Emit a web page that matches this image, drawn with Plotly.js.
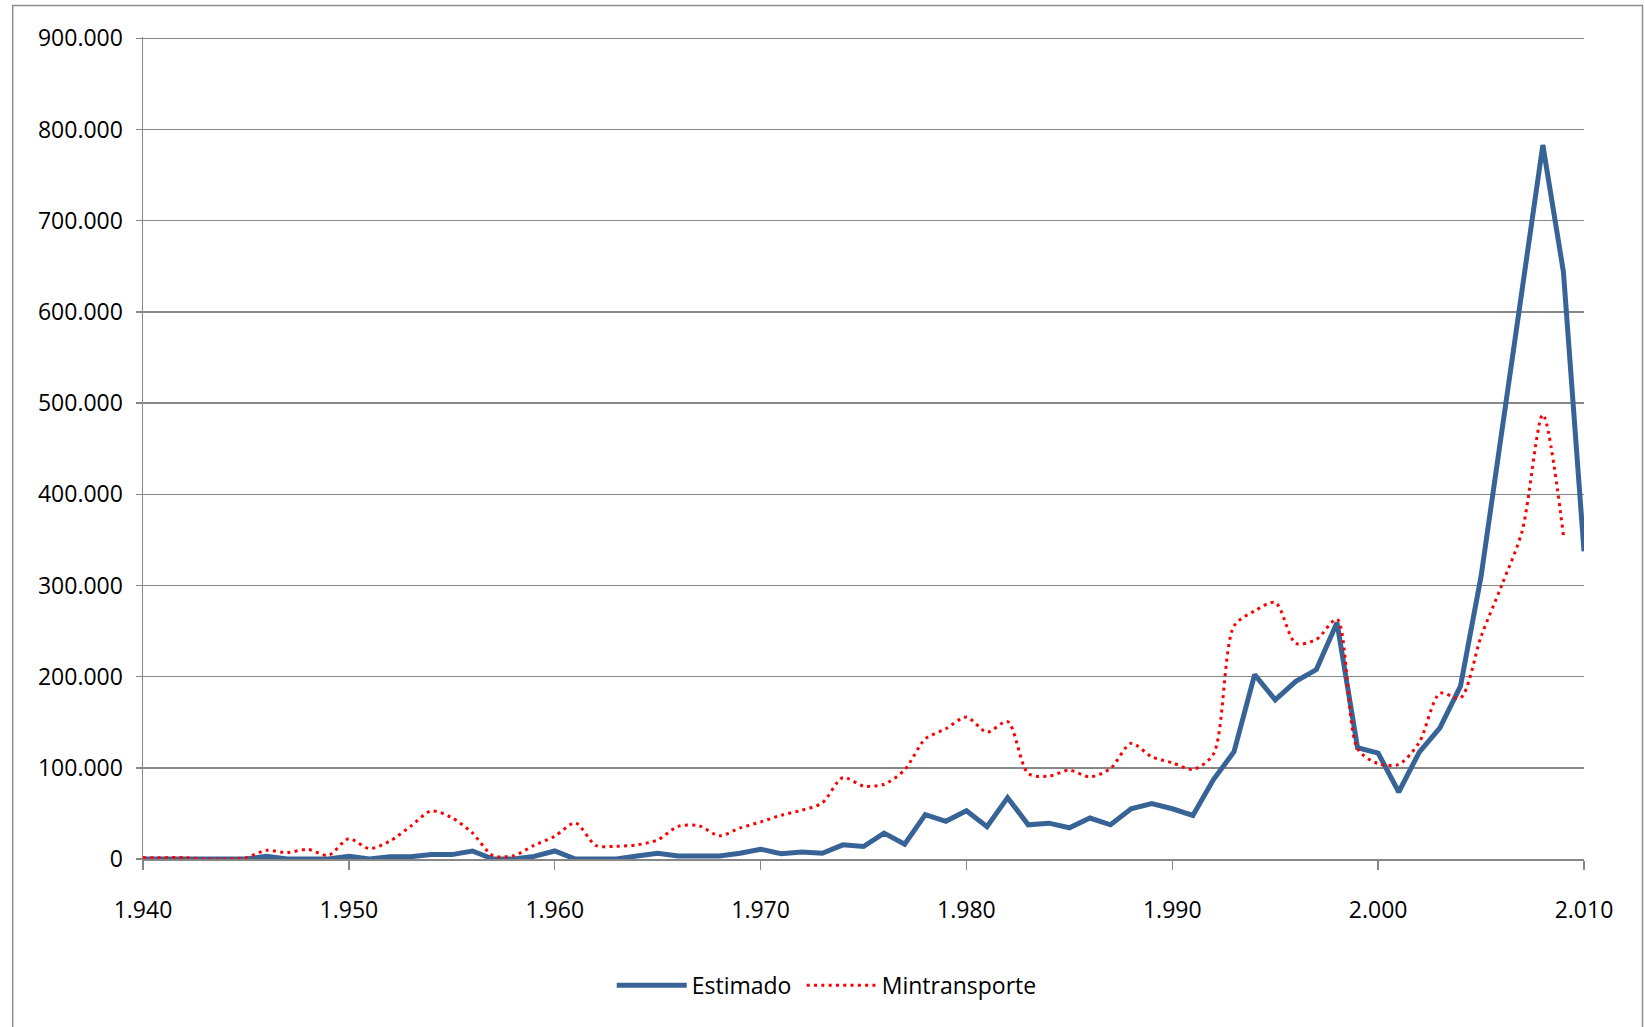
<!DOCTYPE html>
<html>
<head>
<meta charset="utf-8">
<script src="https://cdn.plot.ly/plotly-3.0.1.min.js"></script>
<style>html,body{margin:0;padding:0;background:#fff;}#chart{width:1645px;height:1027px;}</style>
</head>
<body>
<div id="chart"></div>
<script>
const years = [];
for (let y = 1940; y <= 2010; y++) years.push(y);

const estimado = [
  0, 0, 0, 0, 0, 0, 3000, 0, 0, 0,
  2900, 0, 2500, 2500, 4800, 4800, 8800, 0, 0, 2900,
  8800, 0, 0, 0, 3300, 6300, 3300, 3300, 3300, 6300,
  10700, 5900, 7700, 6300, 15500, 13700, 28400, 16200, 48700, 41300,
  53000, 35500, 67300, 37500, 39300, 34200, 44900, 37500, 55100, 60700,
  55100, 47800, 87100, 117600, 202200, 174600, 194900, 207700, 259200, 122000,
  116100, 73500, 117200, 143800, 189500, 310000, 466000, 620000, 783000, 644000,
  337400
];

const mintransporte = [
  1500, 1500, 1500, 0, 0, 1500, 9500, 7000, 10600, 4000,
  22300, 11400, 19800, 35900, 52700, 45400, 28600, 3700, 3700, 15000,
  24900, 39600, 14800, 14000, 15500, 21000, 35800, 36500, 25500, 34000,
  40600, 48000, 53500, 61600, 89300, 80000, 82000, 97800, 131700, 142800,
  155600, 139000, 150700, 93700, 90800, 97400, 90100, 99300, 126800, 112100,
  105500, 98200, 115100, 255500, 272000, 281300, 236400, 240800, 262900, 120900,
  104500, 103700, 128100, 181700, 176500, 244000, 300000, 360000, 487200, 355000,
  null
];

const seriesNames = ["Estimado", "Mintransporte"];
const xTickStart = 1940, xTickEnd = 2010, xTickStep = 10;
const yTickMax = 900000, yTickStep = 100000;

const FONT = "'Open Sans', 'Noto Sans', sans-serif";
const FS = 23;
const GRID = "#878787";

const traces = [
  {
    x: years, y: estimado, name: seriesNames[0], type: "scatter", mode: "lines",
    line: {color: "#386396", width: 5},
    legend: "legend",
    hoverinfo: "x+y"
  },
  {
    x: years, y: mintransporte, name: seriesNames[1], type: "scatter", mode: "lines",
    line: {color: "#ff0000", width: 3, dash: "3px,4.3px", shape: "spline", smoothing: 0.8},
    connectgaps: false,
    legend: "legend2",
    hoverinfo: "x+y"
  }
];

const yPad = 1.0016;
const top900 = 37.9;
const plotTop = top900 - (858.7 - top900) * (yPad - 1);
const plotW = 1584.2 - 143.3, plotH = 858.7 - plotTop;
const legendBase = {
  orientation: "h", xanchor: "left",
  y: (858.7 - 985) / plotH, yanchor: "middle",
  font: {family: FONT, size: FS, color: "#000"},
  itemwidth: 70, bgcolor: "rgba(0,0,0,0)"
};
const layout = {
  width: 1645, height: 1027,
  margin: {l: 143.3, r: 1645 - 1584.2, t: plotTop, b: 1027 - 858.7, pad: 0},
  paper_bgcolor: "#ffffff", plot_bgcolor: "#ffffff",
  separators: ",.",
  font: {family: FONT, size: FS, color: "#000000"},
  showlegend: true,
  legend: Object.assign({}, legendBase, {x: (612 - 143.3) / plotW}),
  legend2: Object.assign({}, legendBase, {x: (802 - 143.3) / plotW}),
  xaxis: {
    range: [xTickStart, xTickEnd], tickmode: "linear", tick0: xTickStart, dtick: xTickStep,
    tickformat: ",d", showgrid: false, zeroline: false,
    showline: true, linecolor: GRID, linewidth: 1.5,
    ticks: "outside", ticklen: 9, tickwidth: 1.5, tickcolor: GRID,
    tickfont: {family: FONT, size: FS, color: "#000"},
    ticklabelstandoff: 21
  },
  yaxis: {
    range: [0, yTickMax * yPad], tickmode: "linear", tick0: 0, dtick: yTickStep,
    tickformat: ",d", showgrid: true, gridcolor: GRID, gridwidth: 1.5,
    zeroline: false, showline: true, linecolor: GRID, linewidth: 1.5,
    ticks: "outside", ticklen: 6, tickwidth: 1.5, tickcolor: GRID,
    tickfont: {family: FONT, size: FS, color: "#000"},
    ticklabelstandoff: 8
  },
  shapes: [{
    type: "rect", xref: "paper", yref: "paper",
    x0: (13 - 143.3) / plotW, x1: (1642.7 - 143.3) / plotW,
    y0: (858.7 - 1040) / plotH, y1: (858.7 - 5) / plotH,
    line: {color: "#8e8e8e", width: 1.5}, fillcolor: "rgba(0,0,0,0)", layer: "below"
  }]
};

Plotly.newPlot("chart", traces, layout, {displayModeBar: false, staticPlot: true});
</script>
</body>
</html>
